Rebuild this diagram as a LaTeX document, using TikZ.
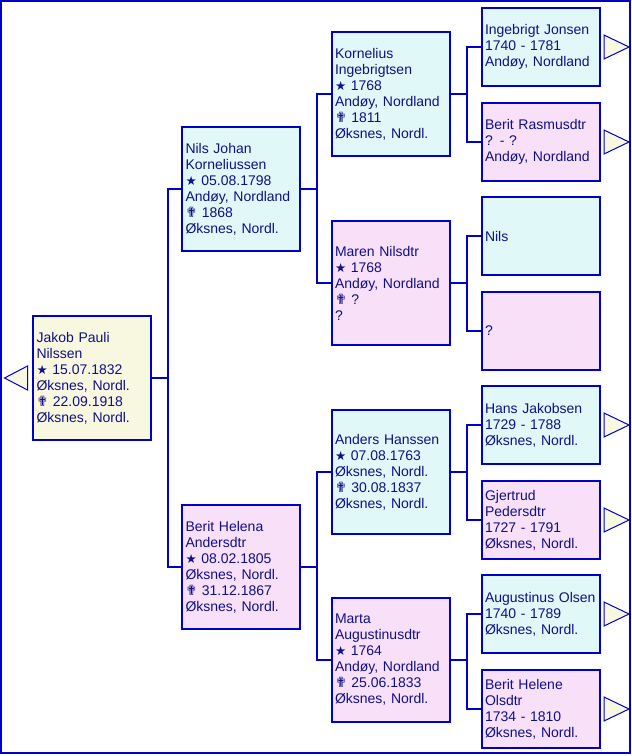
\documentclass[tikz,border=0pt]{standalone}
\usepackage{fontspec}
\setmainfont{Liberation Sans}
\newfontfamily\symfont{DejaVu Sans}
\usetikzlibrary{positioning}
\definecolor{edge}{HTML}{0000CC}
\definecolor{ink}{HTML}{101088}
\definecolor{malebg}{HTML}{E0F8F8}
\definecolor{femalebg}{HTML}{F8E0F8}
\definecolor{rootbg}{HTML}{F8F8E0}
\newcommand{\bornsym}{{\symfont\fontsize{12.5}{16}\selectfont ★}}
\newcommand{\diedsym}{{\symfont\fontsize{14}{16}\selectfont ✟}}

\begin{document}
\begin{tikzpicture}[
  x=1pt,y=-1pt,
  person/.style={draw=edge,line width=2pt,text=ink,align=left,
                 text width=111pt,inner xsep=3.5pt,inner ysep=0pt,
                 minimum height=124pt,font=\fontsize{14}{16}\selectfont},
  male/.style={person,fill=malebg},
  female/.style={person,fill=femalebg},
  root/.style={person,fill=rootbg},
  small/.style={minimum height=78pt},
  link/.style={draw=edge,line width=2pt},
  more/.style={draw=edge,line width=1pt,fill=rootbg}
]
\useasboundingbox (0,0) rectangle (632,756);
\draw[edge,line width=2pt] (1,1) rectangle (630,753);

% Proband.
\node[root] (jakob) at (92,378)
  {Jakob Pauli\\Nilssen\\\bornsym\ 15.07.1832\\Øksnes, Nordl.\\\diedsym\ 22.09.1918\\Øksnes, Nordl.};

% Parents.
\node[male] (nils) at (241,189)
  {Nils Johan\\Korneliussen\\\bornsym\ 05.08.1798\\Andøy, Nordland\\\diedsym\ 1868\\Øksnes, Nordl.};
\node[female] (beritha) at (241,567)
  {Berit Helena\\Andersdtr\\\bornsym\ 08.02.1805\\Øksnes, Nordl.\\\diedsym\ 31.12.1867\\Øksnes, Nordl.};

% Grandparents.
\node[male] (kornelius) at (390.5,94)
  {Kornelius\\Ingebrigtsen\\\bornsym\ 1768\\Andøy, Nordland\\\diedsym\ 1811\\Øksnes, Nordl.};
\node[female] (maren) at (390.5,283)
  {Maren Nilsdtr\\\bornsym\ 1768\\Andøy, Nordland\\\diedsym\ ?\\?};
\node[male] (anders) at (390.5,472)
  {Anders Hanssen\\\bornsym\ 07.08.1763\\Øksnes, Nordl.\\\diedsym\ 30.08.1837\\Øksnes, Nordl.};
\node[female] (marta) at (390.5,660)
  {Marta\\Augustinusdtr\\\bornsym\ 1764\\Andøy, Nordland\\\diedsym\ 25.06.1833\\Øksnes, Nordl.};

% Great-grandparents.
\node[male,small] (ingebrigt) at (540.5,47) {Ingebrigt Jonsen\\1740 - 1781\\Andøy, Nordland};
\node[female,small] (beritr) at (540.5,142) {Berit Rasmusdtr\\? - ?\\Andøy, Nordland};
\node[male,small] (nilsgg) at (540.5,236) {Nils};
\node[female,small] (unknown) at (540.5,331) {?};
\node[male,small] (hans) at (540.5,425) {Hans Jakobsen\\1729 - 1788\\Øksnes, Nordl.};
\node[female,small] (gjertrud) at (540.5,520) {Gjertrud\\Pedersdtr\\1727 - 1791\\Øksnes, Nordl.};
\node[male,small] (augustinus) at (540.5,614) {Augustinus Olsen\\1740 - 1789\\Øksnes, Nordl.};
\node[female,small] (beriteo) at (540.5,709) {Berit Helene\\Olsdtr\\1734 - 1810\\Øksnes, Nordl.};

% Lines of descent.
\foreach \child/\dad/\mum in {jakob/nils/beritha,nils/kornelius/maren,
    beritha/anders/marta,kornelius/ingebrigt/beritr,maren/nilsgg/unknown,
    anders/hans/gjertrud,marta/augustinus/beriteo} {
  \draw[link] (\child.east) -- ++(16,0) |- (\dad.west);
  \draw[link] (\child.east) -- ++(16,0) |- (\mum.west);
}

% Markers for further ancestors.
\draw[more] ([xshift=-4.5pt]jakob.west) ++(0,-12) -- ++(-23,12) -- ++(23,12) -- cycle;
\foreach \p in {ingebrigt,beritr,hans,gjertrud,augustinus,beriteo} {
  \draw[more] ([xshift=3.5pt]\p.east) ++(0,-12) -- ++(25,12) -- ++(-25,12) -- cycle;
}
\end{tikzpicture}
\end{document}
